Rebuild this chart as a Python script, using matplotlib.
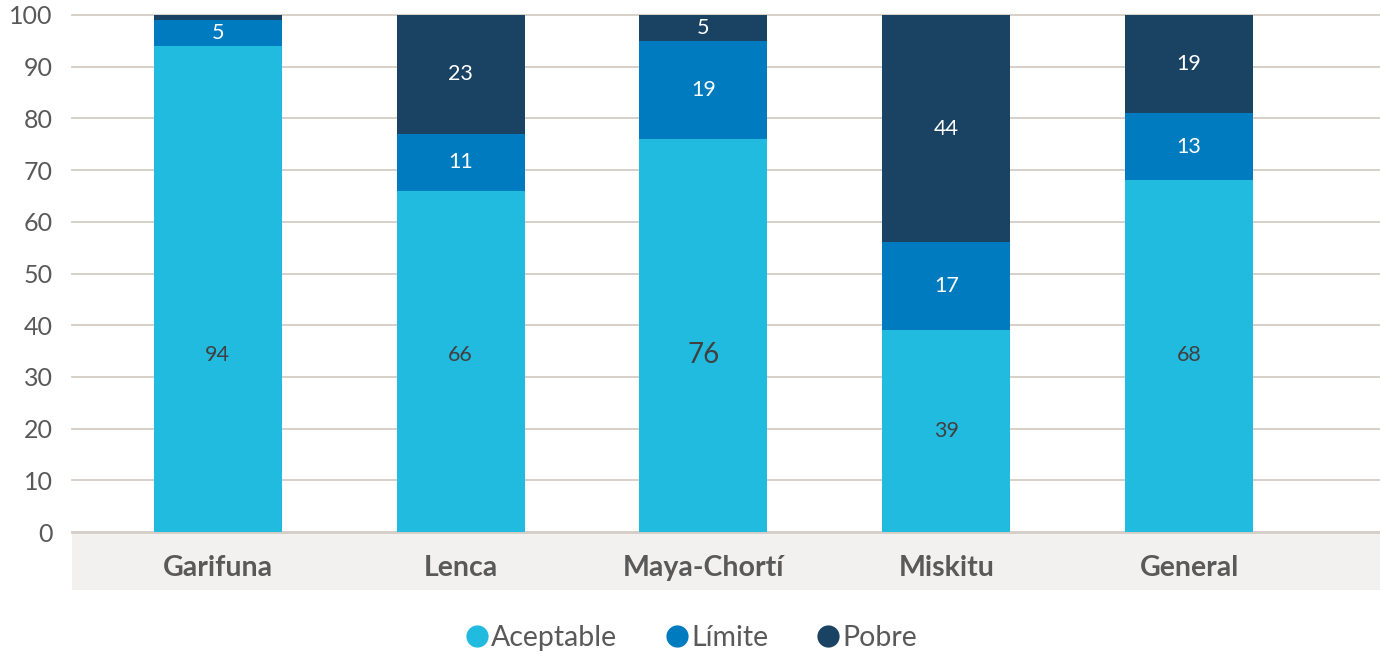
import matplotlib
matplotlib.use("Agg")
import matplotlib.pyplot as plt
from matplotlib.lines import Line2D
from matplotlib.patches import Rectangle
import numpy as np

# Data: quality of diet by ethnic group (%)
groups = ["Garifuna", "Lenca", "Maya-Chortí", "Miskitu", "General"]
aceptable = [94, 66, 76, 39, 68]
limite = [5, 11, 19, 17, 13]
pobre = [1, 23, 5, 44, 19]
series_names = ["Aceptable", "Límite", "Pobre"]
y_ticks = [0, 10, 20, 30, 40, 50, 60, 70, 80, 90, 100]

colors = ["#22BBE0", "#007BC0", "#194263"]
label_colors = ["#404040", "white", "white"]
grid_color = "#D3CDC5"
text_grey = "#595959"

plt.rcParams["font.family"] = ["Lato", "DejaVu Sans"]

fig = plt.figure(figsize=(13.8, 6.56), dpi=100)
ax = fig.add_axes([72 / 1380, 1 - 532 / 656, 1 - 72 / 1380, 517 / 656])

x = np.arange(len(groups))
width = 0.527
series = [aceptable, limite, pobre]
bottom = np.zeros(len(groups))
for k, vals in enumerate(series):
    vals = np.array(vals, dtype=float)
    ax.bar(x, vals, width, bottom=bottom, color=colors[k], zorder=3,
           linewidth=0)
    for i, v in enumerate(vals):
        if v < 3:
            continue
        yc = bottom[i] + v / 2
        if k == 0 and yc > 30:
            yc = 34.3
        fs = 15.5
        if k == 0 and groups[i] == "Maya-Chortí":
            fs = 20
        ax.text(x[i], yc, f"{v:.0f}", ha="center", va="center",
                fontsize=fs, color=label_colors[k], zorder=4)
    bottom += vals

ax.set_xlim(-0.6, 4.786)
ax.set_ylim(0, 100)
ax.set_yticks(y_ticks)
ax.set_yticklabels([str(t) for t in y_ticks], fontsize=18, color=text_grey)
ax.tick_params(axis="y", length=0, pad=14)
ax.set_xticks([])
for s in ax.spines.values():
    s.set_visible(False)
for t in y_ticks:
    ax.axhline(t, color=grid_color, lw=2.0 if t == 0 else 1.3, zorder=1,
               clip_on=False)

# grey band behind the category labels
band_h = 58 / 517
ax.add_patch(Rectangle((0, -band_h), 1, band_h, transform=ax.transAxes,
                       color="#F2F1EF", clip_on=False, zorder=0, lw=0))
for i, g in enumerate(groups):
    ax.text(x[i], -36 / 517, g, transform=ax.get_xaxis_transform(),
            ha="center", va="center", fontsize=20.5, fontweight="bold",
            color=text_grey)

handles = [Line2D([], [], marker="o", ls="none", markersize=16,
                  markerfacecolor=c, markeredgewidth=0) for c in colors]
fig.legend(handles, series_names, loc="center", bbox_to_anchor=(0.5, 1 - 638 / 656),
           ncol=3, frameon=False, fontsize=20.5, handletextpad=0.0,
           columnspacing=1.6, labelcolor=text_grey, handlelength=1.0)

fig.savefig("out.png", dpi=100, facecolor="white")
